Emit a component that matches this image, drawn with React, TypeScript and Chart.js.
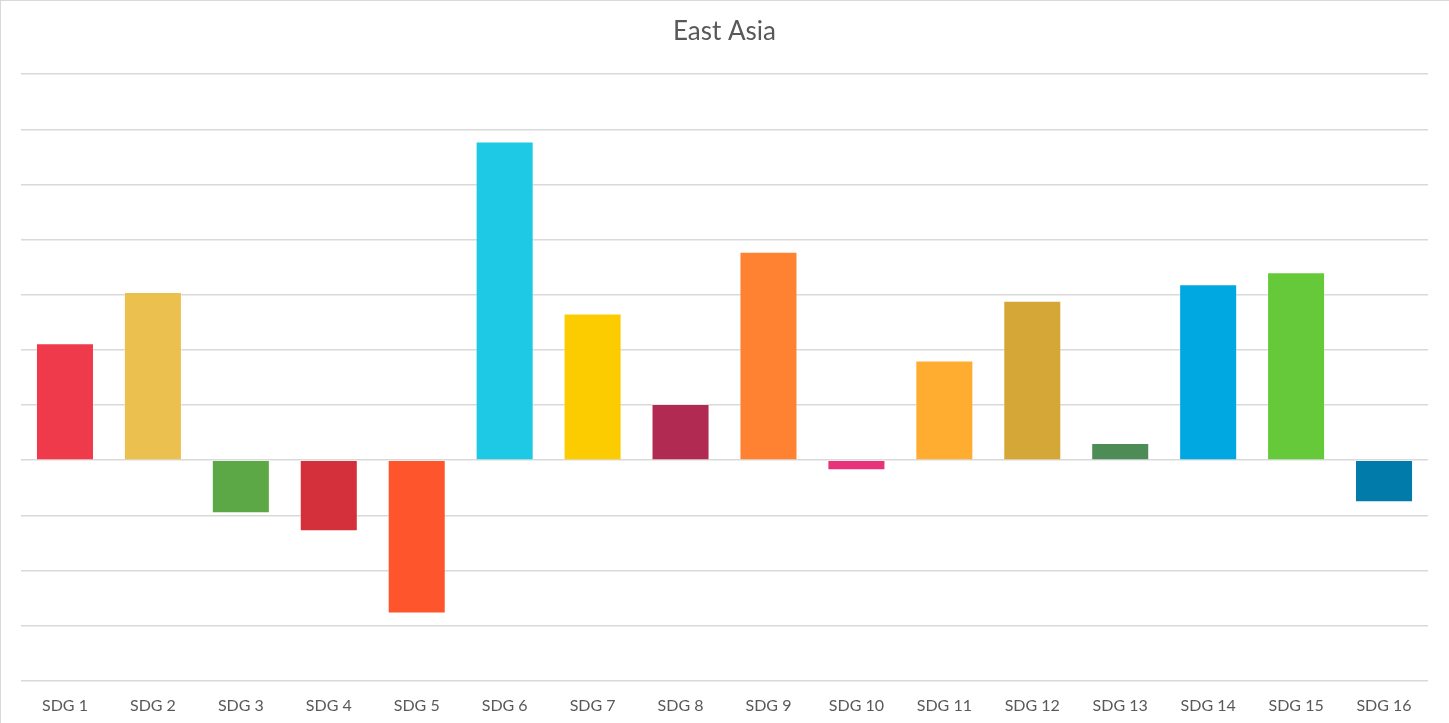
import React, { useEffect, useRef } from "react";
import { Chart, registerables } from "chart.js";

Chart.register(...registerables);

const title = "East Asia";
const categories = [
  "SDG 1", "SDG 2", "SDG 3", "SDG 4", "SDG 5", "SDG 6", "SDG 7", "SDG 8",
  "SDG 9", "SDG 10", "SDG 11", "SDG 12", "SDG 13", "SDG 14", "SDG 15", "SDG 16",
];
const values = [
  2.12, 3.05, -0.96, -1.29, -2.78, 5.78, 2.66, 1.02,
  3.78, -0.18, 1.81, 2.89, 0.31, 3.19, 3.41, -0.76,
];
const barColors = [
  "#EF3A4C", "#ECC04E", "#5CA846", "#D4303B", "#FF552D", "#1DC9E4", "#FDCC00", "#B12A52",
  "#FF8232", "#E8327A", "#FFAD30", "#D5A736", "#4E8C57", "#00A8E1", "#66C93A", "#007BAA",
];
const yMin = -4;
const yMax = 7;
const yStep = 1;

export default function App() {
  const ref = useRef<HTMLCanvasElement | null>(null);

  useEffect(() => {
    document.body.style.margin = "0";
    const canvas = ref.current;
    if (!canvas) return;
    const chart = new Chart(canvas, {
      type: "bar",
      data: {
        labels: categories,
        datasets: [
          {
            data: values,
            backgroundColor: barColors,
            borderColor: "rgba(255,255,255,0.35)",
            borderWidth: 1,
            barPercentage: 0.66,
            categoryPercentage: 1,
          },
        ],
      },
      options: {
        animation: false,
        responsive: false,
        layout: { padding: { left: 20, right: 21, top: 0, bottom: 8 } },
        plugins: {
          legend: { display: false },
          tooltip: { enabled: false },
          title: {
            display: true,
            text: title,
            color: "#595959",
            font: { family: "Lato", size: 26, weight: "normal" },
            padding: { top: 15, bottom: 27 },
          },
        },
        scales: {
          x: {
            grid: { display: false, drawTicks: false },
            border: { display: false },
            ticks: {
              color: "#595959",
              font: { family: "Lato", size: 16 },
              padding: 15,
              maxRotation: 0,
              autoSkip: false,
            },
          },
          y: {
            min: yMin,
            max: yMax,
            ticks: { display: false, stepSize: yStep },
            grid: { color: "#d9d9d9", lineWidth: 1.5, drawTicks: false },
            border: { display: false },
          },
        },
      },
    });
    return () => chart.destroy();
  }, []);

  return (
    <div
      style={{
        position: "absolute",
        left: 0,
        top: 0,
        width: 1449,
        height: 723,
        boxSizing: "border-box",
        borderTop: "1px solid #d9d9d9",
        borderLeft: "1px solid #d9d9d9",
        background: "#ffffff",
        overflow: "hidden",
      }}
    >
      <canvas ref={ref} width={1448} height={737} style={{ display: "block" }} />
    </div>
  );
}
